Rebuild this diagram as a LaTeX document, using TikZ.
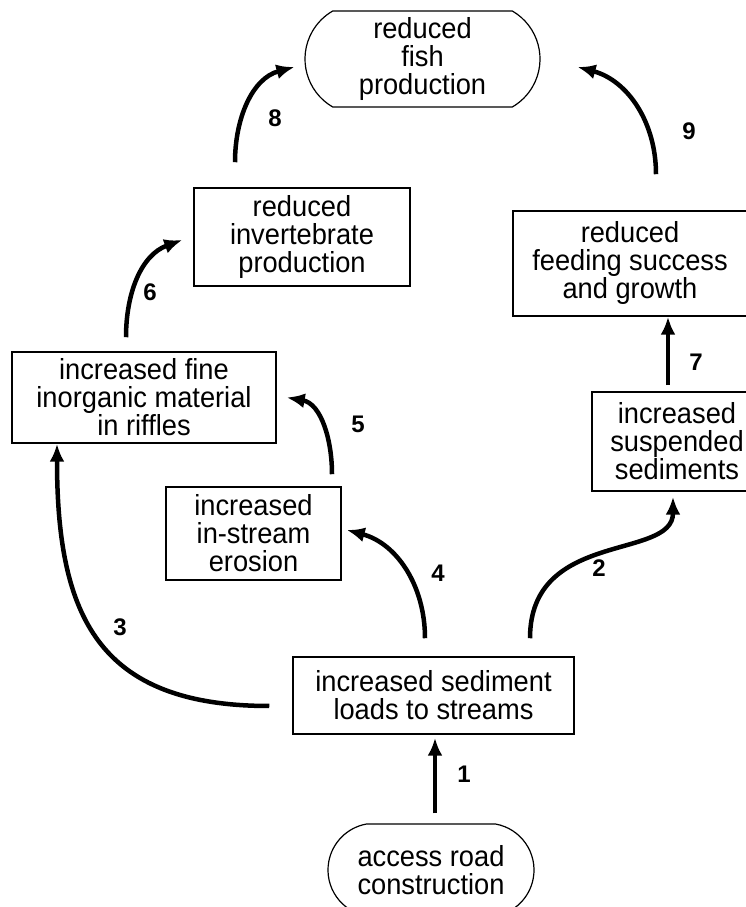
\documentclass[tikz,border=0pt]{standalone}
\usepackage{fontspec}
\setmainfont[FakeStretch=0.94]{Liberation Sans}
\newfontfamily\numfont{Liberation Sans}
\usetikzlibrary{arrows.meta, shapes.misc}

\tikzset{
    box/.style={draw, line width=1.5pt, align=center, inner sep=0pt,
        font=\fontsize{29}{28}\selectfont},
    pill/.style={box, rounded rectangle, rounded rectangle arc length=120,
        line width=1.2pt},
    link/.style={line width=4.5pt, -{Latex[length=18pt, width=15pt]}},
    num/.style={font=\numfont\bfseries\fontsize{24}{24}\selectfont},
}

\begin{document}
\begin{tikzpicture}[x=1pt, y=1pt]
    \useasboundingbox (0,0) rectangle (746,907);
    \clip (0,0) rectangle (746,907);

    \node[pill, minimum width=235, minimum height=96] (fish) at (422.5,848)
        {reduced\\fish\\production};
    \node[box, minimum width=216, minimum height=98] (invert) at (302,670)
        {reduced\\invertebrate\\production};
    \node[box, minimum width=234, minimum height=105] (feed) at (630,643.5)
        {reduced\\feeding success\\and growth};
    \node[box, minimum width=264, minimum height=91] (fine) at (144,509.5)
        {increased fine\\inorganic material\\in riffles};
    \node[box, minimum width=175, minimum height=93] (erosion) at (253.5,373.5)
        {increased\\in-stream\\erosion};
    \node[box, minimum width=170, minimum height=99] (susp) at (677,465.5)
        {increased\\suspended\\sediments};
    \node[box, minimum width=281, minimum height=77] (sediment) at (433.5,211.5)
        {increased sediment\\loads to streams};
    \node[pill, rounded rectangle arc length=160, minimum width=206,
        minimum height=92] (access) at (431,37) {access road\\construction};

    \draw[link] ([xshift=4, yshift=10]access.north) -- ([xshift=1.5, yshift=-3]sediment.south);
    \draw[link] ([xshift=96.5, yshift=18]sediment.north)
        to[out=90, in=-90, out distance=109, in distance=64] ([xshift=-4, yshift=-5]susp.south);
    \draw[link] ([xshift=-23, yshift=-10.5]sediment.west)
        to[out=180, in=-90, looseness=1.3] ([xshift=-87]fine.south);
    \draw[link] ([xshift=-8.5, yshift=18]sediment.north)
        to[out=90, in=-15] ([xshift=5, yshift=3.5]erosion.east);
    \draw[link] ([xshift=78.5, yshift=12]erosion.north)
        to[out=90, in=-10] ([xshift=10]fine.east);
    \draw[link] ([xshift=-18, yshift=14]fine.north)
        to[out=90, in=200] ([xshift=-11, yshift=-3]invert.west);
    \draw[link] ([xshift=-9, yshift=6]susp.north) -- ([xshift=38]feed.south);
    \draw[link] ([xshift=-67, yshift=25]invert.north)
        to[out=90, in=195] ([xshift=-10, yshift=-8]fish.west);
    \draw[link] ([xshift=26, yshift=36]feed.north)
        to[out=90, in=-15] ([xshift=37, yshift=-8]fish.east);

    \node[num] (n1) at (464,133) {1};
    \node[num] (n2) at (599,339) {2};
    \node[num] (n3) at (120,280) {3};
    \node[num] (n4) at (438,334) {4};
    \node[num] (n5) at (358,483) {5};
    \node[num] (n6) at (150,615) {6};
    \node[num] (n7) at (696,545) {7};
    \node[num] (n8) at (275,789) {8};
    \node[num] (n9) at (689,776) {9};
\end{tikzpicture}
\end{document}
